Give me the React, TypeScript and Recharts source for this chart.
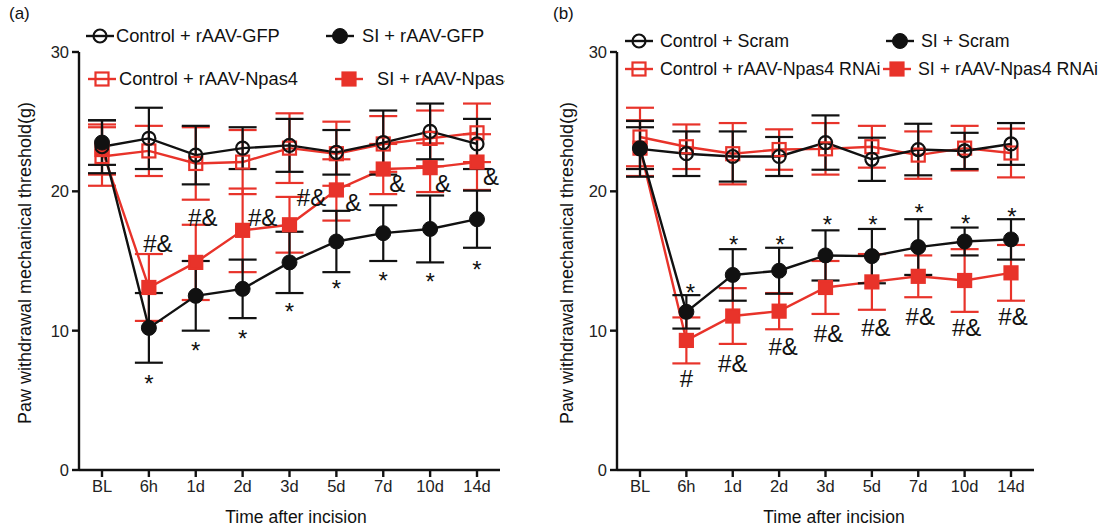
import React from "react";
import { LineChart, Line, XAxis, YAxis, ErrorBar } from "recharts";

const categories = ["BL", "6h", "1d", "2d", "3d", "5d", "7d", "10d", "14d"];

// panel (a)
const ctrlGfp = [23.2, 23.8, 22.6, 23.1, 23.3, 22.8, 23.5, 24.3, 23.4];
const ctrlGfpErr = [1.9, 2.2, 2.1, 1.5, 1.9, 1.6, 2.3, 2.0, 1.8];
const siGfp = [23.5, 10.2, 12.5, 13.0, 14.9, 16.4, 17.0, 17.3, 18.0];
const siGfpErr = [1.6, 2.5, 2.5, 2.1, 2.2, 2.2, 2.0, 2.4, 2.05];
const ctrlNpas4 = [22.5, 22.9, 22.0, 22.1, 23.1, 22.7, 23.4, 23.8, 24.2];
const ctrlNpas4Err = [2.1, 1.8, 2.6, 2.3, 2.5, 2.3, 2.0, 2.0, 2.1];
const siNpas4 = [23.0, 13.1, 14.9, 17.2, 17.6, 20.1, 21.6, 21.7, 22.1];
const siNpas4Err = [1.8, 2.4, 2.7, 3.0, 2.0, 2.2, 1.8, 1.75, 2.0];

const starTextA = ["", "*", "*", "*", "*", "*", "*", "*", "*"];
const starAtA = [null, 6.6, 9.0, 9.8, 11.8, 13.4, 14.0, 13.9, 14.8];
const markTextA = ["", "#&", "#&", "#&", "#&", "&", "&", "&", "&"];
const markAtA = [null, 16.3, 18.1, 18.1, 19.6, 19.2, 20.6, 20.6, 21.1];

// panel (b)
const ctrlScram = [23.05, 22.7, 22.5, 22.5, 23.5, 22.3, 23.0, 22.9, 23.4];
const ctrlScramErr = [2.0, 1.6, 1.8, 1.4, 1.95, 1.55, 1.85, 1.3, 1.5];
const siScram = [23.1, 11.35, 14.0, 14.3, 15.4, 15.35, 16.0, 16.4, 16.55];
const siScramErr = [1.5, 1.2, 1.85, 1.65, 1.8, 1.95, 2.0, 1.0, 1.45];
const ctrlRnai = [23.9, 23.2, 22.7, 23.0, 23.05, 23.2, 22.6, 23.1, 22.75];
const ctrlRnaiErr = [2.1, 1.6, 2.2, 1.45, 1.85, 1.5, 1.7, 1.6, 1.75];
const siRnai = [23.1, 9.3, 11.05, 11.4, 13.1, 13.5, 13.9, 13.6, 14.15];
const siRnaiErr = [2.0, 1.65, 2.0, 1.3, 1.9, 2.0, 1.5, 2.25, 2.0];

const starTextB = ["", "*", "*", "*", "*", "*", "*", "*", "*"];
const starAtB = [null, 13.1, 16.6, 16.6, 18.0, 18.0, 18.85, 18.1, 18.6];
const markTextB = ["", "#", "#&", "#&", "#&", "#&", "#&", "#&", "#&"];
const markAtB = [null, 6.6, 7.67, 8.9, 9.8, 10.25, 11.0, 10.25, 11.0];

const yTicks = [0, 10, 20, 30];

// horizontal nudges of the annotation text (layout only)
const starShiftA = [0, 0, 0, 0, 0, 0, 0, 0, 0];
const markShiftA = [0, 9, 7, 20, 22, 17, 14, 13, 14];
const starShiftB = [0, 4, 1, 1, 2, 1, 1, 1, 1];
const markShiftB = [0, 0, 0, 4, 3, 4, 2, 2, 2];

const BLACK = "#111111";
const RED = "#e8332a";
const FONT = "'Liberation Sans', Arial, sans-serif";

type MarkerKind = "circleOpen" | "circleFilled" | "squareOpen" | "squareFilled";

interface SeriesDef {
  key: string;
  name: string;
  color: string;
  marker: MarkerKind;
}

const seriesA: SeriesDef[] = [
  { key: "ctrlNpas4", name: "Control + rAAV-Npas4", color: RED, marker: "squareOpen" },
  { key: "siNpas4", name: "SI + rAAV-Npas4", color: RED, marker: "squareFilled" },
  { key: "ctrlGfp", name: "Control + rAAV-GFP", color: BLACK, marker: "circleOpen" },
  { key: "siGfp", name: "SI + rAAV-GFP", color: BLACK, marker: "circleFilled" },
];

const seriesB: SeriesDef[] = [
  { key: "ctrlRnai", name: "Control + rAAV-Npas4 RNAi", color: RED, marker: "squareOpen" },
  { key: "siRnai", name: "SI + rAAV-Npas4 RNAi", color: RED, marker: "squareFilled" },
  { key: "ctrlScram", name: "Control + Scram", color: BLACK, marker: "circleOpen" },
  { key: "siScram", name: "SI + Scram", color: BLACK, marker: "circleFilled" },
];

const dataA = categories.map((t, i) => ({
  t,
  ctrlGfp: ctrlGfp[i],
  ctrlGfpErr: ctrlGfpErr[i],
  siGfp: siGfp[i],
  siGfpErr: siGfpErr[i],
  ctrlNpas4: ctrlNpas4[i],
  ctrlNpas4Err: ctrlNpas4Err[i],
  siNpas4: siNpas4[i],
  siNpas4Err: siNpas4Err[i],
  starAt: starAtA[i],
  markAt: markAtA[i],
}));

const dataB = categories.map((t, i) => ({
  t,
  ctrlScram: ctrlScram[i],
  ctrlScramErr: ctrlScramErr[i],
  siScram: siScram[i],
  siScramErr: siScramErr[i],
  ctrlRnai: ctrlRnai[i],
  ctrlRnaiErr: ctrlRnaiErr[i],
  siRnai: siRnai[i],
  siRnaiErr: siRnaiErr[i],
  starAt: starAtB[i],
  markAt: markAtB[i],
}));

function Marker({ kind, color, cx, cy }: { kind: MarkerKind; color: string; cx: number; cy: number }) {
  if (kind === "circleOpen") {
    return <circle cx={cx} cy={cy} r={6.5} fill="none" stroke={color} strokeWidth={2.2} />;
  }
  if (kind === "circleFilled") {
    return <circle cx={cx} cy={cy} r={7.5} fill={color} stroke={color} strokeWidth={1} />;
  }
  const s = 13;
  return (
    <rect
      x={cx - s / 2}
      y={cy - s / 2}
      width={s}
      height={s}
      fill={kind === "squareFilled" ? color : "none"}
      stroke={color}
      strokeWidth={2.2}
    />
  );
}

const makeDot = (s: SeriesDef) => (p: any) => {
  if (p.cx == null || p.cy == null) return <g key={`${s.key}-${p.index}`} />;
  return (
    <g key={`${s.key}-${p.index}`}>
      <Marker kind={s.marker} color={s.color} cx={p.cx} cy={p.cy} />
    </g>
  );
};

// annotation text drawn at the value position through the chart's scales
const makeAnno = (texts: string[], shifts: number[], id: string) => (p: any) => {
  const txt = texts[p.index];
  if (p.cx == null || p.cy == null || !txt) return <g key={`${id}-${p.index}`} />;
  const isStar = txt === "*";
  const fs = 24;
  const base = p.cy + (isStar ? 0.58 : 0.36) * fs;
  return (
    <text
      key={`${id}-${p.index}`}
      x={p.cx + shifts[p.index]}
      y={base}
      textAnchor="middle"
      fontSize={fs}
      fontFamily={FONT}
      fill={BLACK}
    >
      {txt}
    </text>
  );
};

function Panel({
  data,
  series,
  yWidth,
  right,
  starText,
  starShift,
  markText,
  markShift,
}: {
  data: any[];
  series: SeriesDef[];
  yWidth: number;
  right: number;
  starText: string[];
  starShift: number[];
  markText: string[];
  markShift: number[];
}) {
  const tick = { fill: "#222", fontSize: 16.5, fontFamily: FONT };
  return (
    <LineChart width={540} height={529} data={data} margin={{ top: 52, right, bottom: 29, left: 0 }}>
      <XAxis
        dataKey="t"
        scale="point"
        padding={{ left: 23, right: 23 }}
        height={30}
        tick={tick}
        tickSize={7}
        tickMargin={3}
        stroke={BLACK}
        strokeWidth={2.4}
        interval={0}
      />
      <YAxis
        type="number"
        domain={[0, 30]}
        ticks={yTicks}
        width={yWidth}
        tick={tick}
        tickSize={7}
        tickMargin={3}
        stroke={BLACK}
        strokeWidth={2.4}
        allowDataOverflow
      />
      {series.map((s) => (
        <Line
          key={s.key}
          dataKey={s.key}
          name={s.name}
          stroke={s.color}
          strokeWidth={2.4}
          dot={makeDot(s)}
          activeDot={false}
          isAnimationActive={false}
        >
          <ErrorBar dataKey={`${s.key}Err`} width={14} stroke={s.color} strokeWidth={2.2} direction="y" />
        </Line>
      ))}
      <Line
        dataKey="starAt"
        stroke="none"
        dot={makeAnno(starText, starShift, "star")}
        activeDot={false}
        legendType="none"
        isAnimationActive={false}
      />
      <Line
        dataKey="markAt"
        stroke="none"
        dot={makeAnno(markText, markShift, "mark")}
        activeDot={false}
        legendType="none"
        isAnimationActive={false}
      />
    </LineChart>
  );
}

function LegendItem({
  s,
  symX,
  textX,
  y,
  fontSize,
}: {
  s: SeriesDef;
  symX: number;
  textX: number;
  y: number;
  fontSize: number;
}) {
  return (
    <>
      <svg width={28} height={18} style={{ position: "absolute", left: symX, top: y - 9 }}>
        <line x1={0} y1={9} x2={28} y2={9} stroke={s.color} strokeWidth={2.4} />
        <Marker kind={s.marker} color={s.color} cx={14} cy={9} />
      </svg>
      <div
        style={{
          position: "absolute",
          left: textX,
          top: y - 11,
          lineHeight: "22px",
          fontSize,
          whiteSpace: "nowrap",
          color: "#111",
        }}
      >
        {s.name}
      </div>
    </>
  );
}

// legend placement per series key: [symbol x, text x, row centre y]
const legendPos: Record<string, [number, number, number]> = {
  ctrlGfp: [86, 116, 36],
  siGfp: [326, 362, 36],
  ctrlNpas4: [88, 119, 79],
  siNpas4: [335, 377, 79],
  ctrlScram: [625, 660, 41],
  siScram: [886, 921, 41],
  ctrlRnai: [625, 660, 69],
  siRnai: [883, 918, 69],
};

const legendOrderA = ["ctrlGfp", "siGfp", "ctrlNpas4", "siNpas4"];
const legendOrderB = ["ctrlScram", "siScram", "ctrlRnai", "siRnai"];

export default function App() {
  const yTitle = "Paw withdrawal mechanical threshold(g)";
  const xTitle = "Time after incision";
  const titleStyle: React.CSSProperties = {
    position: "absolute",
    fontSize: 17.5,
    whiteSpace: "nowrap",
    color: "#111",
  };
  return (
    <div
      style={{
        position: "absolute",
        left: 0,
        top: 0,
        width: 1109,
        height: 529,
        background: "#fff",
        fontFamily: FONT,
        overflow: "hidden",
      }}
    >
      <div style={{ position: "absolute", left: 0, top: 0 }}>
        <Panel
          data={dataA}
          series={seriesA}
          yWidth={79}
          right={40}
          starText={starTextA}
          starShift={starShiftA}
          markText={markTextA}
          markShift={markShiftA}
        />
      </div>
      <div style={{ position: "absolute", left: 560, top: 0 }}>
        <Panel
          data={dataB}
          series={seriesB}
          yWidth={57}
          right={66}
          starText={starTextB}
          starShift={starShiftB}
          markText={markTextB}
          markShift={markShiftB}
        />
      </div>

      <div style={{ position: "absolute", left: 0, top: 0, width: 505, height: 100, overflow: "hidden" }}>
        {legendOrderA.map((k) => {
          const s = seriesA.find((x) => x.key === k)!;
          const [sx, tx, y] = legendPos[k];
          return <LegendItem key={k} s={s} symX={sx} textX={tx} y={y} fontSize={18.3} />;
        })}
      </div>
      {legendOrderB.map((k) => {
        const s = seriesB.find((x) => x.key === k)!;
        const [sx, tx, y] = legendPos[k];
        return <LegendItem key={k} s={s} symX={sx} textX={tx} y={y} fontSize={17.8} />;
      })}

      <div style={{ ...titleStyle, left: 9, top: 4, fontSize: 17 }}>(a)</div>
      <div style={{ ...titleStyle, left: 553, top: 4, fontSize: 17 }}>(b)</div>

      <div
        style={{ ...titleStyle, fontSize: 18, left: 25, top: 263, transform: "translate(-50%, -50%) rotate(-90deg)" }}
      >
        {yTitle}
      </div>
      <div
        style={{ ...titleStyle, fontSize: 18, left: 567, top: 263, transform: "translate(-50%, -50%) rotate(-90deg)" }}
      >
        {yTitle}
      </div>
      <div style={{ ...titleStyle, left: 296, top: 517, transform: "translate(-50%, -50%)" }}>{xTitle}</div>
      <div style={{ ...titleStyle, left: 834, top: 517, transform: "translate(-50%, -50%)" }}>{xTitle}</div>
    </div>
  );
}
